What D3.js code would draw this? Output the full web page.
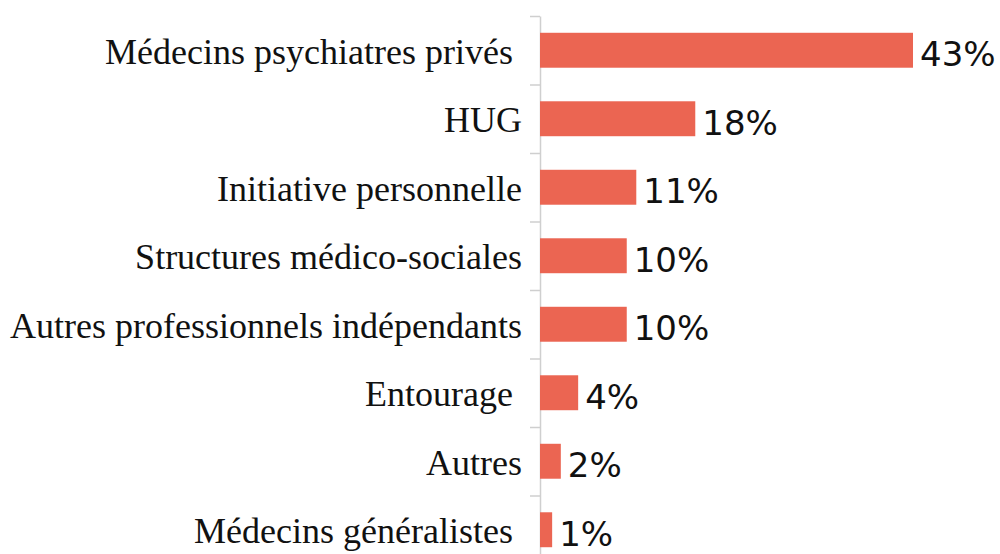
<!DOCTYPE html>
<html>
<head>
<meta charset="utf-8">
<script src="https://cdn.jsdelivr.net/npm/d3@7"></script>
<style>
    html, body { margin: 0; padding: 0; background: #fff; }
    svg { display: block; }
</style>
</head>
<body>
<div id="chart"></div>
<script>
const categories = [
    'Médecins psychiatres privés ',
    'HUG',
    'Initiative personnelle',
    'Structures médico-sociales',
    'Autres professionnels indépendants',
    'Entourage ',
    'Autres',
    'Médecins généralistes '
];
const shares = [43.0, 17.9, 11.1, 10.0, 10.0, 4.4, 2.4, 1.4];
const valueLabels = ['43%', '18%', '11%', '10%', '10%', '4%', '2%', '1%'];

function createBarChart(container) {
    const width = 1000;
    const height = 554;

    const svg = d3.select(container)
        .append('svg')
        .attr('width', width)
        .attr('height', height);

    const x = d3.scaleLinear().domain([0, 43]).range([540, 913]);
    const y = d3.scaleBand()
        .domain(categories)
        .range([16, 564])
        .paddingInner(0.49)
        .paddingOuter(0.245);

    // axis with ticks between the categories
    const edges = d3.scaleLinear().domain([0, categories.length]).range([16, 564]);
    const axis = svg.append('g')
        .attr('transform', `translate(${x(0)},0)`)
        .call(d3.axisLeft(edges).ticks(categories.length).tickFormat('').tickSize(10).tickSizeOuter(0));
    axis.selectAll('path, line')
        .attr('stroke', '#cfcfcf')
        .attr('stroke-width', 1.5);

    svg.selectAll('.bar')
        .data(shares)
        .enter().append('rect')
        .attr('class', 'bar')
        .attr('x', x(0))
        .attr('y', (d, i) => y(categories[i]))
        .attr('width', d => x(d) - x(0))
        .attr('height', y.bandwidth())
        .attr('fill', '#EB6552');

    // category labels
    svg.selectAll('.cat')
        .data(categories)
        .enter().append('text')
        .attr('class', 'cat')
        .attr('x', 522)
        .attr('y', d => y(d) + y.bandwidth() / 2 + 13.5)
        .attr('text-anchor', 'end')
        .style('white-space', 'pre')
        .attr('font-family', '"Liberation Serif", serif')
        .attr('font-size', 36)
        .attr('fill', '#111')
        .text(d => d);

    // value labels
    svg.selectAll('.val')
        .data(shares)
        .enter().append('text')
        .attr('class', 'val')
        .attr('x', d => x(d) + 7)
        .attr('y', (d, i) => y(categories[i]) + y.bandwidth() / 2 + 16)
        .attr('font-family', '"DejaVu Sans", sans-serif')
        .attr('font-size', 34)
        .attr('fill', '#111')
        .text((d, i) => valueLabels[i]);
}

createBarChart('#chart');
</script>
</body>
</html>
